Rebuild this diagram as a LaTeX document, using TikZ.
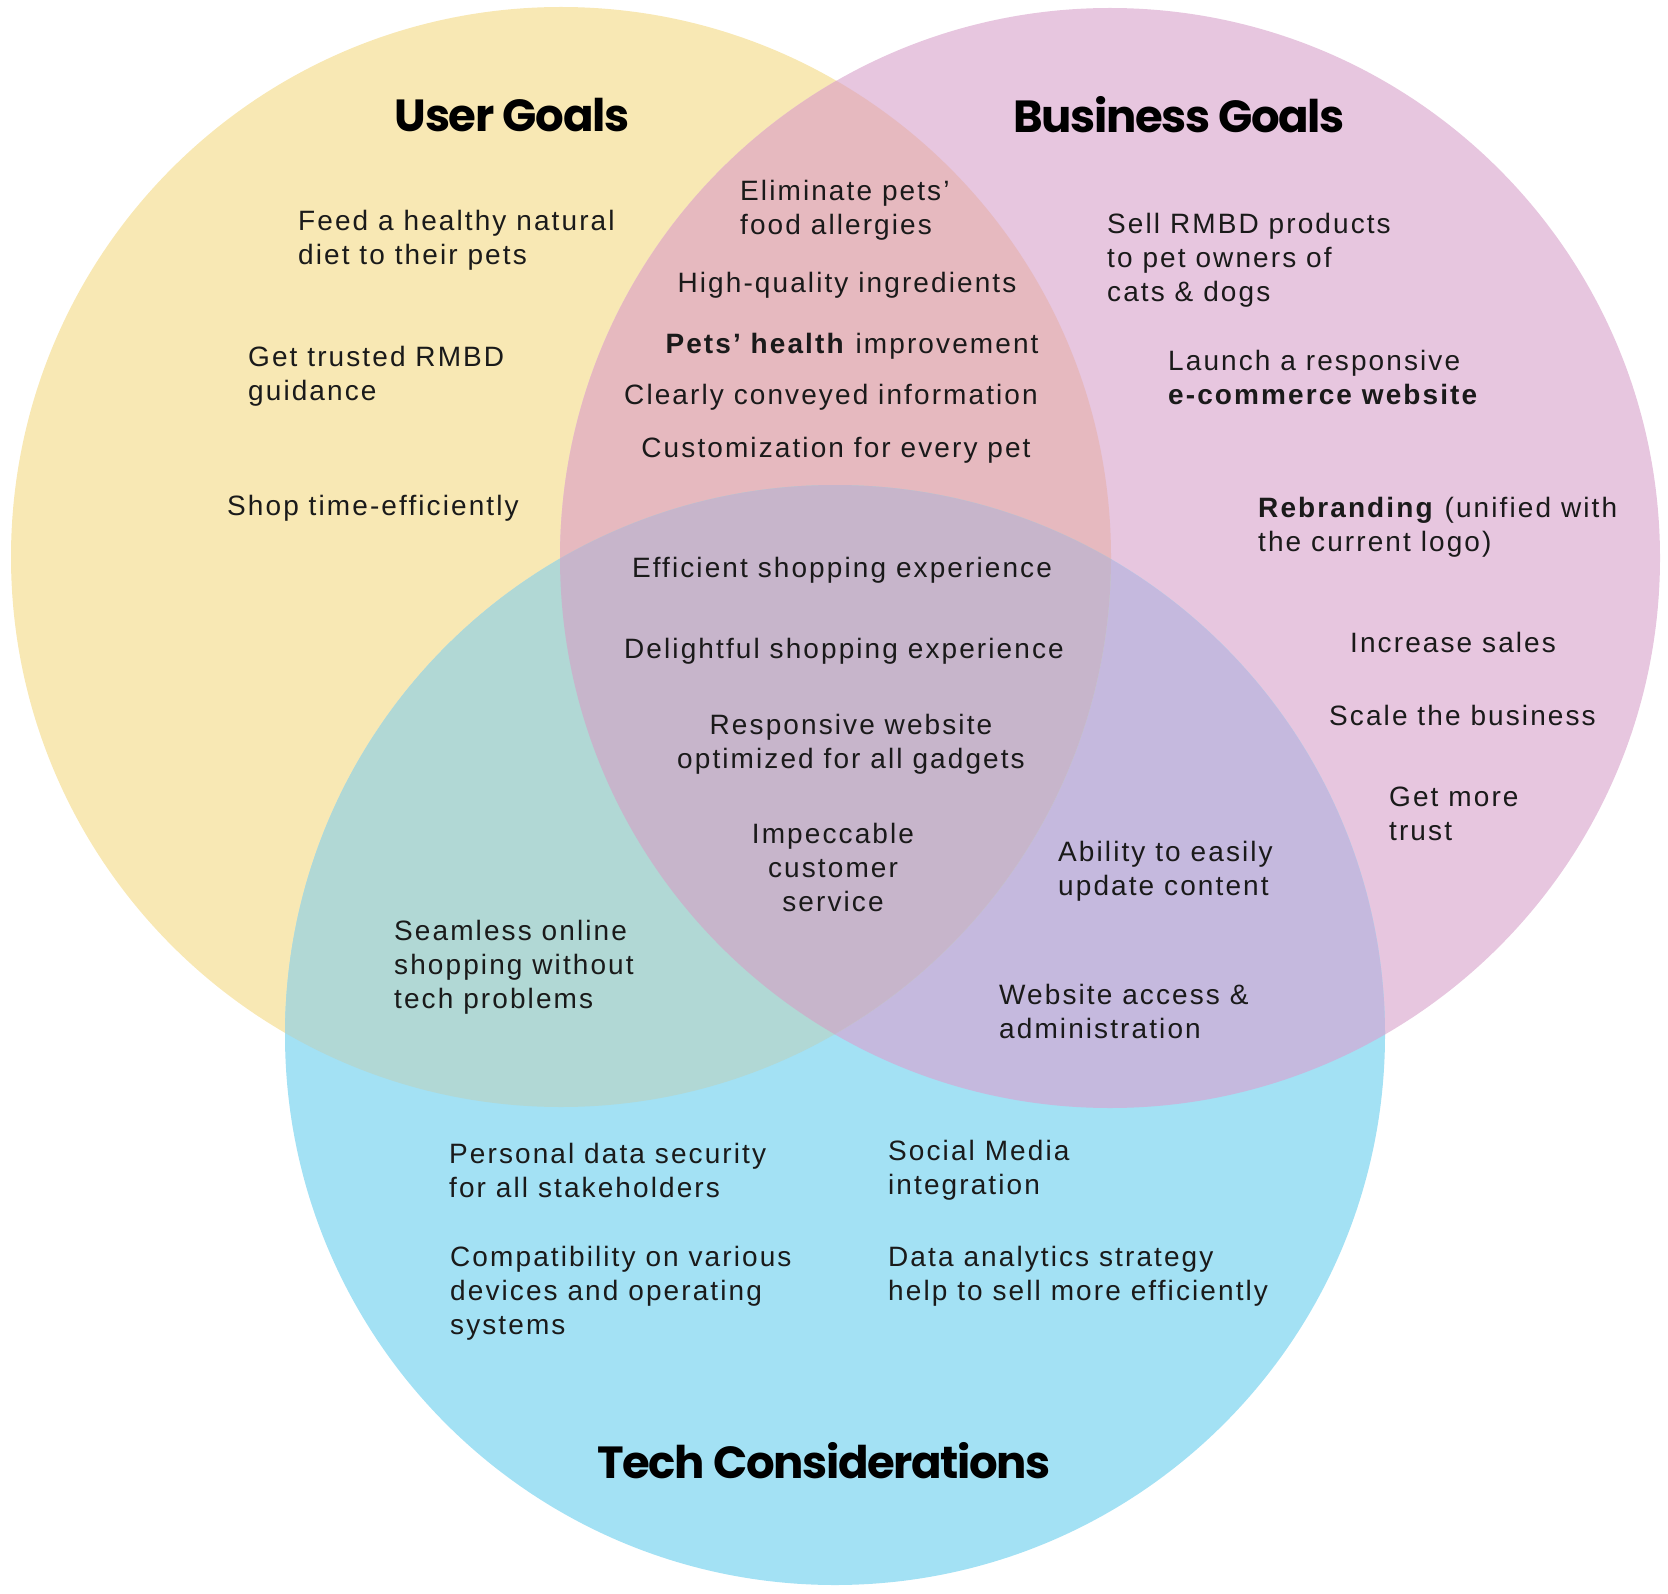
\documentclass[tikz,border=0pt]{standalone}
\usepackage{fontspec}
\setmainfont{Liberation Sans}[LetterSpace=7.5]
\newfontfamily\titlefont{Poppins}[LetterSpace=-3]
\definecolor{cY}{HTML}{F8E8B4}
\definecolor{cP}{HTML}{E7C6DF}
\definecolor{cB}{HTML}{A3E1F4}
\definecolor{cYP}{HTML}{E6B9BF}
\definecolor{cYB}{HTML}{B1D8D5}
\definecolor{cPB}{HTML}{C5B9DE}
\definecolor{cYPB}{HTML}{C7B5CB}
\definecolor{ink}{HTML}{1A1A1A}
\tikzset{
  txt/.style={inner sep=0pt, align=left, anchor=west, text=ink, font=\fontsize{28}{34}\selectfont},
  ctxt/.style={inner sep=0pt, align=center, anchor=center, text=ink, font=\fontsize{28}{34}\selectfont},
  ttl/.style={inner sep=0pt, anchor=center, text=black, font=\titlefont\bfseries\fontsize{45}{50}\selectfont},
}
\begin{document}
\begin{tikzpicture}[x=1pt,y=-1pt]
\useasboundingbox (0,0) rectangle (1668,1594);
\coordinate (Y) at (561,557);
\coordinate (P) at (1110,558);
\coordinate (B) at (835,1035);
% base circles
\fill[cY] (Y) circle[radius=550pt];
\fill[cP] (P) circle[radius=550pt];
\fill[cB] (B) circle[radius=550pt];
% pink-blue overlap
\begin{scope}
  \clip (P) circle[radius=550pt];
  \fill[cPB] (B) circle[radius=550pt];
\end{scope}
% overlaps with yellow
\begin{scope}
  \clip (Y) circle[radius=550pt];
  \fill[cYP] (P) circle[radius=550pt];
  \fill[cYB] (B) circle[radius=550pt];
  \clip (P) circle[radius=550pt];
  \fill[cYPB] (B) circle[radius=550pt];
\end{scope}
% titles
\node[ttl] (tU) at (512,115) {User Goals};
\node[ttl] (tB) at (1179,115) {Business Goals};
\node[ttl] (tT) at (824,1461) {Tech Considerations};
% user goals
\node[txt] (u1) at (298,240) {Feed a healthy natural\\diet to their pets};
\node[txt] (u2) at (248,376) {Get trusted RMBD\\guidance};
\node[txt] (u3) at (227,508) {Shop time-efficiently};
% user & business
\node[txt] (ub1) at (740,210) {Eliminate pets’\\food allergies};
\node[ctxt] (ub2) at (847,285) {High-quality ingredients};
\node[ctxt] (ub3) at (852,346) {\textbf{Pets’ health} improvement};
\node[ctxt] (ub4) at (831,397) {Clearly conveyed information};
\node[ctxt] (ub5) at (836,450) {Customization for every pet};
% business goals
\node[txt] (b1) at (1107,260) {Sell RMBD products\\to pet owners of\\cats \& dogs};
\node[txt] (b2) at (1168,377) {Launch a responsive\\\textbf{e-commerce website}};
\node[txt] (b3) at (1258,527) {\textbf{Rebranding} (unified with\\the current logo)};
\node[txt] (b4) at (1350,642) {Increase sales};
\node[txt] (b5) at (1329,715) {Scale the business};
\node[txt] (b6) at (1389,814) {Get more\\trust};
% all three
\node[ctxt] (a1) at (842,570) {Efficient shopping experience};
\node[ctxt] (a2) at (844,651) {Delightful shopping experience};
\node[ctxt] (a3) at (851,744) {Responsive website\\optimized for all gadgets};
\node[ctxt] (a4) at (833,867) {Impeccable\\customer\\service};
% business & tech
\node[txt] (bt1) at (1058,871) {Ability to easily\\update content};
\node[txt] (bt2) at (999,1011) {Website access \&\\administration};
% user & tech
\node[txt] (ut1) at (394,967) {Seamless online\\shopping without\\tech problems};
% tech
\node[txt] (t1) at (449,1170) {Personal data security\\for all stakeholders};
\node[txt] (t2) at (450,1293) {Compatibility on various\\devices and operating\\systems};
\node[txt] (t3) at (888,1170) {Social Media\\integration};
\node[txt] (t4) at (888,1276) {Data analytics strategy\\help to sell more efficiently};
\end{tikzpicture}
\end{document}
